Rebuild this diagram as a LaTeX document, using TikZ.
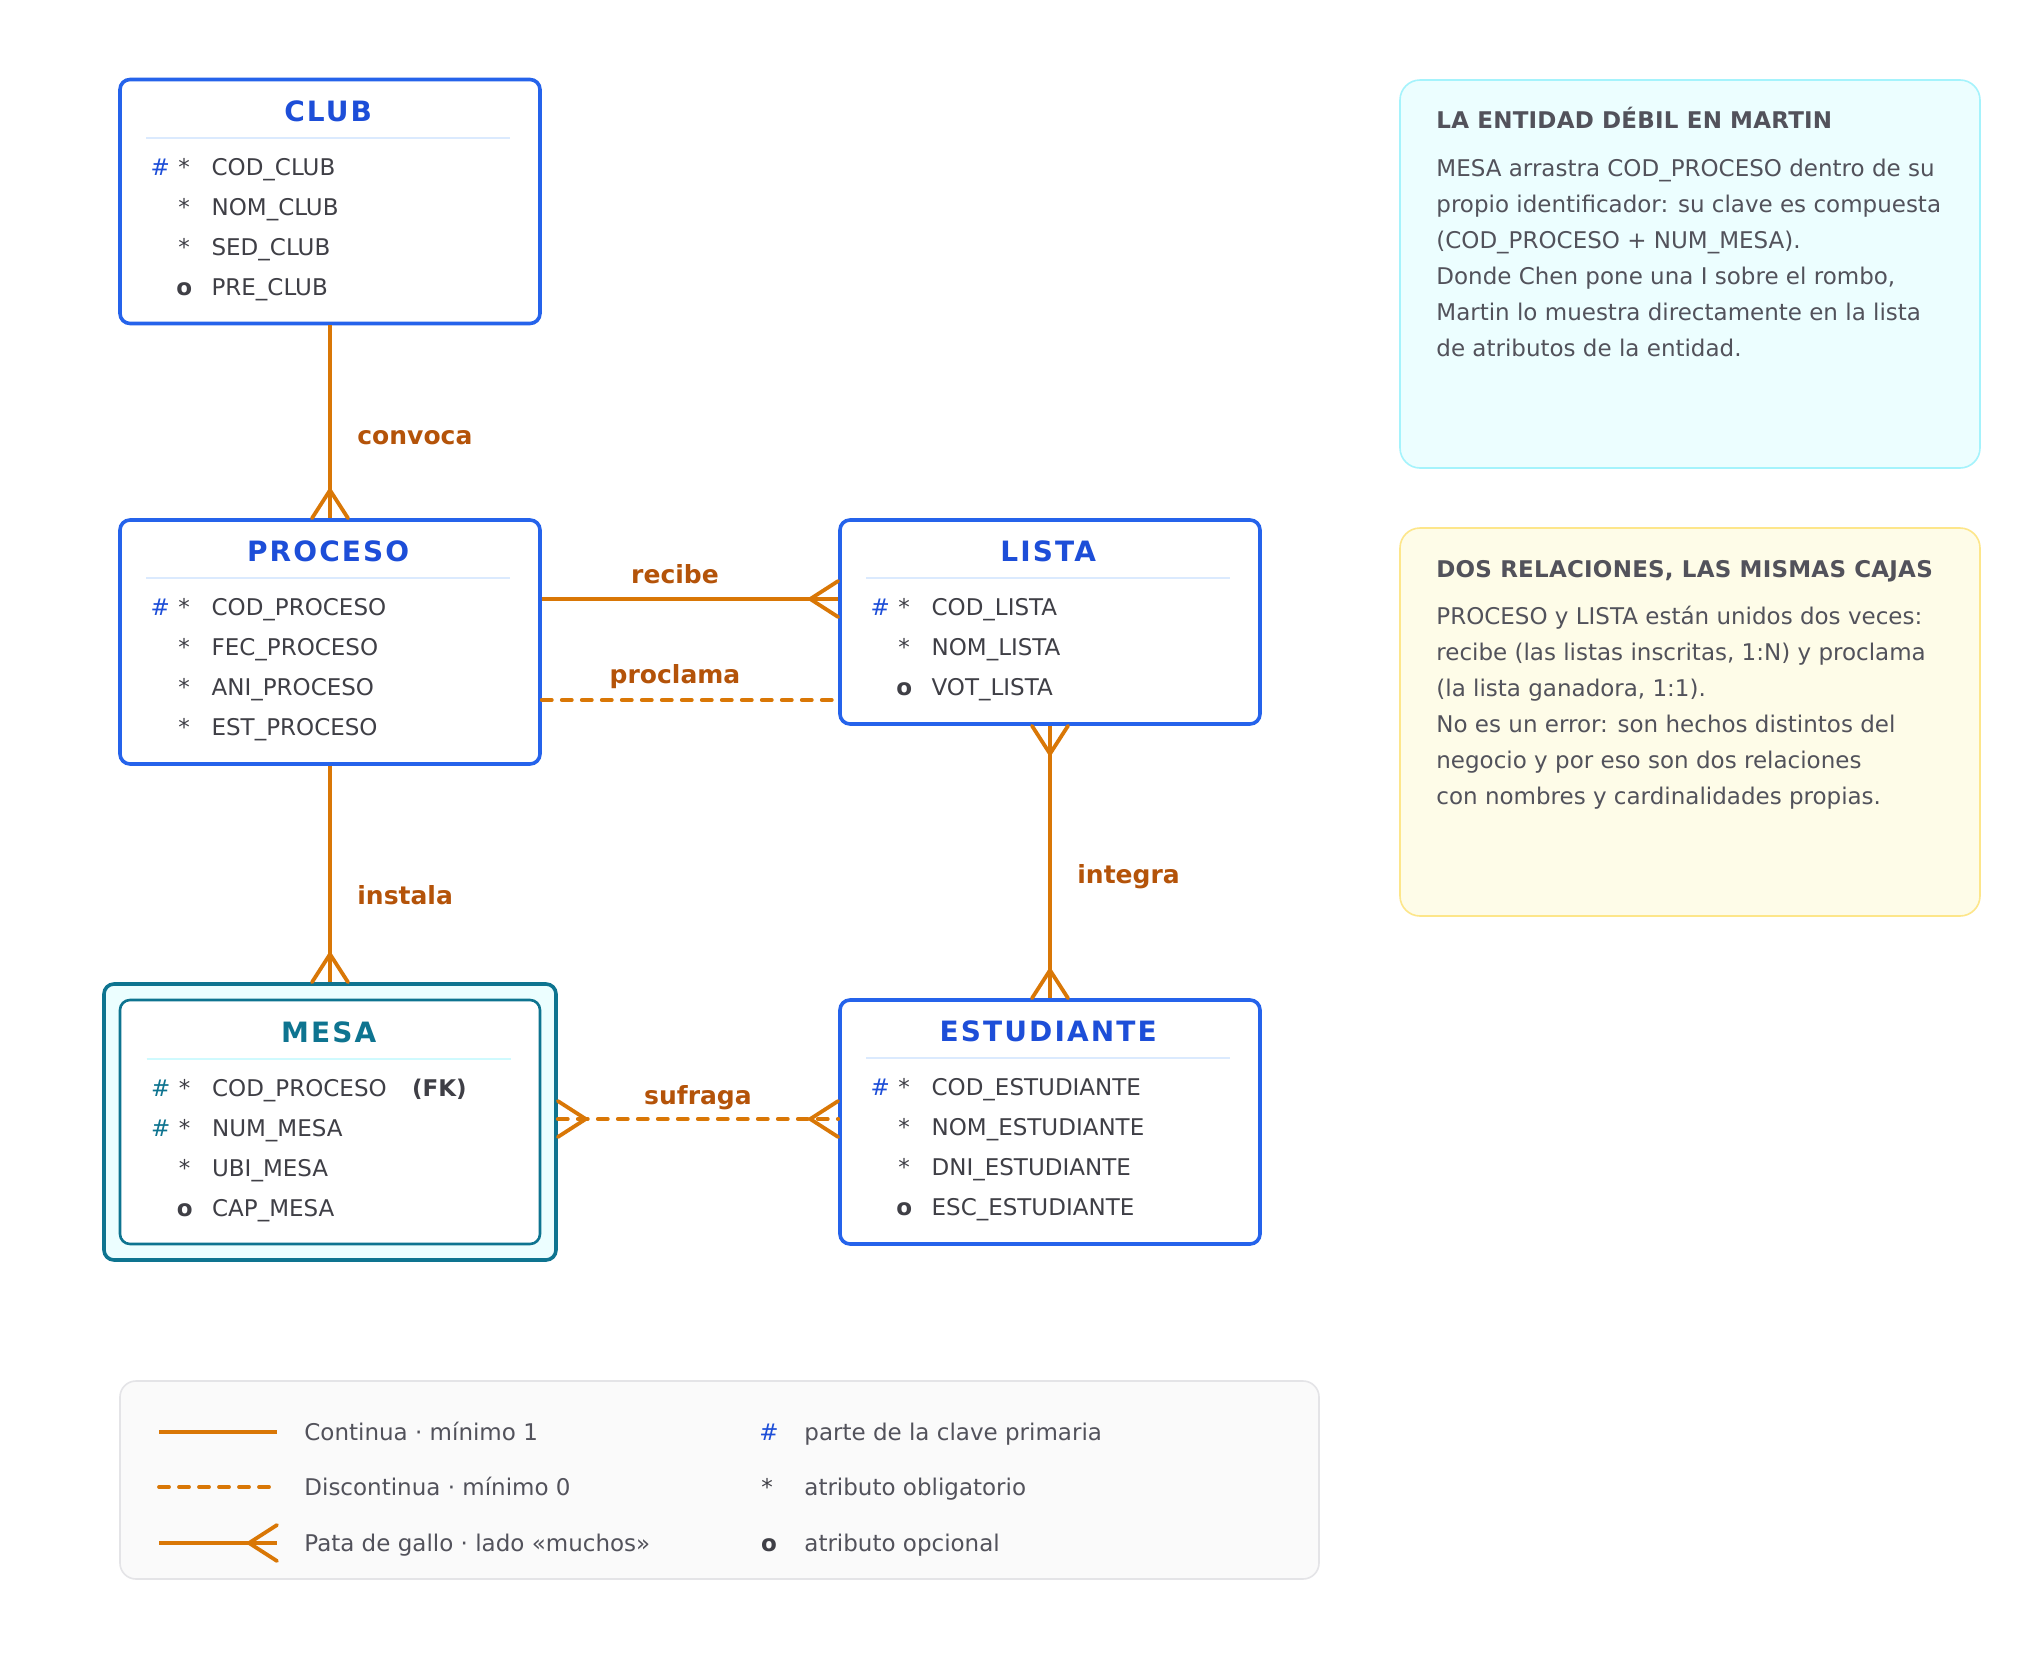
\documentclass[tikz,border=0pt]{standalone}
\usepackage{fontspec}
\setmainfont{DejaVu Sans}

\definecolor{azul}{HTML}{2563EB}
\definecolor{azultit}{HTML}{1D4ED8}
\definecolor{azulsep}{HTML}{DBEAFE}
\definecolor{petroleo}{HTML}{0E7490}
\definecolor{cianclaro}{HTML}{ECFEFF}
\definecolor{ciansep}{HTML}{CFFAFE}
\definecolor{cianborde}{HTML}{A5F3FC}
\definecolor{naranja}{HTML}{D97706}
\definecolor{ocre}{HTML}{B45309}
\definecolor{tinta}{HTML}{3F3F46}
\definecolor{gris}{HTML}{52525B}
\definecolor{crema}{HTML}{FEFCE8}
\definecolor{cremaborde}{HTML}{FDE68A}
\definecolor{fondoley}{HTML}{FAFAFA}
\definecolor{bordeley}{HTML}{E4E4E7}

\begin{document}
\begin{tikzpicture}[x=0.5pt,y=-0.5pt,
	entidad/.style={draw=azul, line width=1.8pt, rounded corners=5pt, fill=white, minimum width=210pt, minimum height=122pt, inner sep=0},
	nombre/.style={font=\fontsize{14}{16}\selectfont\bfseries\addfontfeature{LetterSpace=7.5}, text=azultit, anchor=base, inner sep=0},
	separa/.style={azulsep, line width=1pt},
	attr/.style={font=\fontsize{11.5}{14}\selectfont, text=tinta, inner sep=0},
	clave/.style={attr, text=azultit},
	rel/.style={naranja, line width=1.9pt},
	opcional/.style={dash pattern=on 5pt off 5pt, line cap=round},
	verbo/.style={font=\fontsize{12.5}{15}\selectfont\bfseries, text=ocre, inner sep=0},
	nota/.style={rounded corners=10pt, line width=0.8pt, minimum width=290pt, minimum height=194pt},
	notatit/.style={font=\fontsize{11.5}{14}\selectfont\bfseries\addfontfeature{LetterSpace=1}, text=gris, anchor=base west, inner sep=0},
	notatxt/.style={font=\fontsize{11.5}{14}\selectfont, text=gris, anchor=base west, inner sep=0},
	pata/.pic={\draw[rel, solid, line cap=round] (-28,0) -- (0,18) (-28,0) -- (0,-18);}
	]
	\fill[white] (0,0) rectangle (2020,1660);
	\useasboundingbox (0,0) rectangle (2020,1660);

	% entidades
	\node[entidad] (club) at (330,201.5) {};
	\node[entidad] (proceso) at (330,642) {};
	\node[entidad, minimum height=102pt] (lista) at (1050,622) {};
	\node[entidad, draw=petroleo, fill=cianclaro, minimum width=226pt, minimum height=138pt] (mesaext) at (330,1122) {}; % entidad debil
	\node[entidad, draw=petroleo, line width=1.3pt] (mesa) at (330,1122) {};
	\node[entidad] (estudiante) at (1050,1122) {};

	% CLUB
	\begin{scope}[shift={(club.north west)}]
		\node[nombre] at (210,43.5) {CLUB};
		\draw[separa] (28,60) -- (392,60);
		\foreach \h/\e/\n [count=\i from 0] in {\#/*/COD\_CLUB, /*/NOM\_CLUB, /*/SED\_CLUB, /\textbf{o}/PRE\_CLUB} {
			\node[clave, anchor=base] at (42,97.5+40*\i) {\h};
			\node[attr, anchor=base] at (66,97.5+40*\i) {\e};
			\node[attr, anchor=base west] at (93,97.5+40*\i) {\n};
		}
	\end{scope}

	% PROCESO
	\begin{scope}[shift={(proceso.north west)}]
		\node[nombre] at (210,43.5) {PROCESO};
		\draw[separa] (28,60) -- (392,60);
		\foreach \h/\e/\n [count=\i from 0] in {\#/*/COD\_PROCESO, /*/FEC\_PROCESO, /*/ANI\_PROCESO, /*/EST\_PROCESO} {
			\node[clave, anchor=base] at (42,97.5+40*\i) {\h};
			\node[attr, anchor=base] at (66,97.5+40*\i) {\e};
			\node[attr, anchor=base west] at (93,97.5+40*\i) {\n};
		}
	\end{scope}

	% LISTA
	\begin{scope}[shift={(lista.north west)}]
		\node[nombre] at (210,43.5) {LISTA};
		\draw[separa] (28,60) -- (392,60);
		\foreach \h/\e/\n [count=\i from 0] in {\#/*/COD\_LISTA, /*/NOM\_LISTA, /\textbf{o}/VOT\_LISTA} {
			\node[clave, anchor=base] at (42,97.5+40*\i) {\h};
			\node[attr, anchor=base] at (66,97.5+40*\i) {\e};
			\node[attr, anchor=base west] at (93,97.5+40*\i) {\n};
		}
	\end{scope}

	% MESA
	\begin{scope}[shift={(mesa.north west)}, clave/.style={attr, text=petroleo}]
		\node[nombre, text=petroleo] at (210,43.5) {MESA};
		\draw[separa, ciansep] (28,60) -- (392,60);
		\foreach \h/\e/\n [count=\i from 0] in {\#/*/COD\_PROCESO, \#/*/NUM\_MESA, /*/UBI\_MESA, /\textbf{o}/CAP\_MESA} {
			\node[clave, anchor=base] at (42,97.5+40*\i) {\h};
			\node[attr, anchor=base] at (66,97.5+40*\i) {\e};
			\node[attr, anchor=base west] at (93,97.5+40*\i) {\n};
		}
		\node[attr, font=\fontsize{11.5}{14}\selectfont\bfseries, anchor=base west] at (293,97.5) {(FK)};
	\end{scope}

	% ESTUDIANTE
	\begin{scope}[shift={(estudiante.north west)}]
		\node[nombre] at (210,43.5) {ESTUDIANTE};
		\draw[separa] (28,60) -- (392,60);
		\foreach \h/\e/\n [count=\i from 0] in {\#/*/COD\_ESTUDIANTE, /*/NOM\_ESTUDIANTE, /*/DNI\_ESTUDIANTE, /\textbf{o}/ESC\_ESTUDIANTE} {
			\node[clave, anchor=base] at (42,97.5+40*\i) {\h};
			\node[attr, anchor=base] at (66,97.5+40*\i) {\e};
			\node[attr, anchor=base west] at (93,97.5+40*\i) {\n};
		}
	\end{scope}

	% relaciones
	\draw[rel] (club) -- (proceso);
	\pic[rotate=-90] at (proceso.north) {pata};
	\node[verbo, anchor=base west] at (357,444) {convoca};

	\draw[rel] (proceso.east |- 0,599) -- (lista.west |- 0,599);
	\pic at (lista.west |- 0,599) {pata};
	\node[verbo, anchor=base] at (675,583) {recibe};

	\draw[rel, opcional] (proceso.east |- 0,700) -- (lista.west |- 0,700);
	\node[verbo, anchor=base] at (675,683) {proclama};

	\draw[rel] (proceso) -- (mesaext);
	\pic[rotate=-90] at (mesaext.north) {pata};
	\node[verbo, anchor=base west] at (357,904) {instala};

	\draw[rel] (lista) -- (estudiante);
	\pic[rotate=90] at (lista.south) {pata};
	\pic[rotate=-90] at (estudiante.north) {pata};
	\node[verbo, anchor=base west] at (1077,883) {integra};

	\draw[rel, opcional] (mesaext.east |- 0,1119) -- (estudiante.west |- 0,1119);
	\pic[rotate=180] at (mesaext.east |- 0,1119) {pata};
	\pic at (estudiante.west |- 0,1119) {pata};
	\node[verbo, anchor=base] at (698,1104) {sufraga};

	% notas
	\node[nota, draw=cianborde, fill=cianclaro] (nota1) at (1690,274) {};
	\node[notatit] at (1436,128) {LA ENTIDAD DÉBIL EN MARTIN};
	\foreach \t [count=\i from 0] in {{MESA arrastra COD\_PROCESO dentro de su}, {propio identificador: su clave es compuesta}, {(COD\_PROCESO + NUM\_MESA).}, {Donde Chen pone una I sobre el rombo,}, {Martin lo muestra directamente en la lista}, {de atributos de la entidad.}}
		\node[notatxt] at (1436,176+36*\i) {\t};

	\node[nota, draw=cremaborde, fill=crema] (nota2) at (1690,722) {};
	\node[notatit] at (1436,577) {DOS RELACIONES, LAS MISMAS CAJAS};
	\foreach \t [count=\i from 0] in {{PROCESO y LISTA están unidos dos veces:}, {recibe (las listas inscritas, 1:N) y proclama}, {(la lista ganadora, 1:1).}, {No es un error: son hechos distintos del}, {negocio y por eso son dos relaciones}, {con nombres y cardinalidades propias.}}
		\node[notatxt] at (1436,624+36*\i) {\t};

	% leyenda
	\node[draw=bordeley, fill=fondoley, rounded corners=8pt, line width=0.8pt, minimum width=599.5pt, minimum height=99pt] (leyenda) at (719.5,1480) {};
	\coordinate (m1) at (159,1432);
	\coordinate (m2) at (159,1487);
	\coordinate (m3) at (159,1543);
	\draw[rel] (m1) -- ++(118,0);
	\draw[rel, opcional] (m2) -- ++(118,0);
	\draw[rel] (m3) -- ++(118,0);
	\pic at (277,1543) {pata};
	\node[notatxt] at (304,1440) {Continua · mínimo 1};
	\node[notatxt] at (304,1495) {Discontinua · mínimo 0};
	\node[notatxt] at (304,1551) {Pata de gallo · lado «muchos»};
	\node[clave, anchor=base] at (769,1440) {\#};
	\node[attr, anchor=base] at (767,1495) {*};
	\node[attr, anchor=base] at (769,1551) {\textbf{o}};
	\node[notatxt] at (804,1440) {parte de la clave primaria};
	\node[notatxt] at (804,1495) {atributo obligatorio};
	\node[notatxt] at (804,1551) {atributo opcional};
\end{tikzpicture}
\end{document}
